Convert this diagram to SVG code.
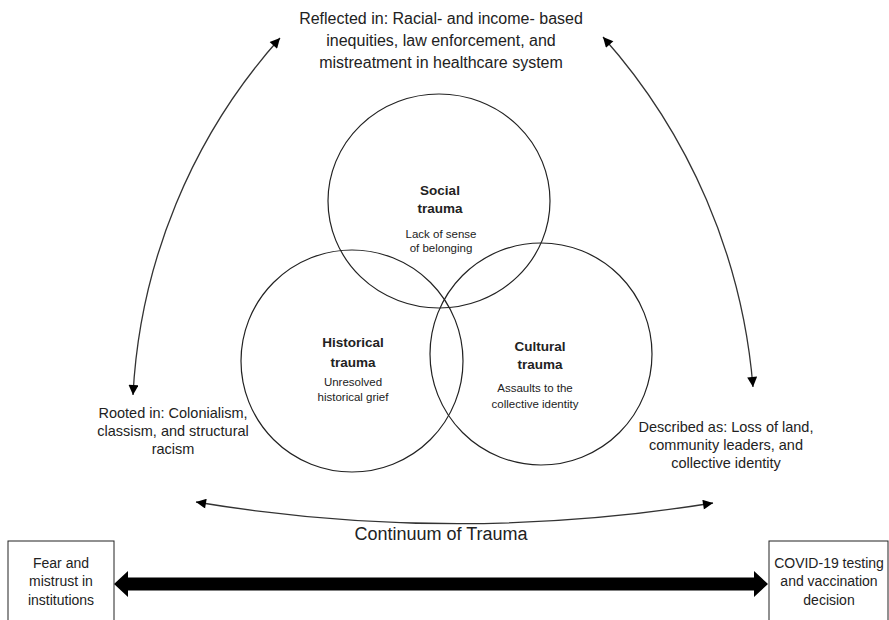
<svg xmlns="http://www.w3.org/2000/svg" width="889" height="620" viewBox="0 0 889 620">
<style>
.t{font-family:"Liberation Sans",Arial,sans-serif;fill:#222;text-anchor:middle}
.lab{font-size:16px}
.side{font-size:14.5px}
.box{font-size:14px}
.h{font-size:13.5px;font-weight:bold}
.s{font-size:11.5px}
.circ{fill:none;stroke:#222;stroke-width:1.2}
.conn{fill:none;stroke:#333;stroke-width:1.3}
.rect{fill:#fff;stroke:#222;stroke-width:1}
</style>
<defs>
<marker id="ah" viewBox="0 0 10 10" refX="10" refY="5" markerWidth="11" markerHeight="10" markerUnits="userSpaceOnUse" orient="auto-start-reverse">
<path d="M0,0 L10,5 L0,10 z" fill="#000"/>
</marker>
</defs>
<rect width="889" height="620" fill="#fff"/>
<g id="social-trauma">
<ellipse class="circ" cx="439" cy="201" rx="111" ry="107"/>
<text class="t h" x="440" y="195">Social</text>
<text class="t h" x="440" y="213">trauma</text>
<text class="t s" x="441" y="238">Lack of sense</text>
<text class="t s" x="441" y="252">of belonging</text>
</g>
<g id="historical-trauma">
<circle class="circ" cx="352" cy="361" r="111"/>
<text class="t h" x="353" y="347">Historical</text>
<text class="t h" x="353" y="367">trauma</text>
<text class="t s" x="353" y="386">Unresolved</text>
<text class="t s" x="353" y="401">historical grief</text>
</g>
<g id="cultural-trauma">
<circle class="circ" cx="541" cy="354" r="111"/>
<text class="t h" x="540" y="351">Cultural</text>
<text class="t h" x="540" y="369">trauma</text>
<text class="t s" x="535" y="392">Assaults to the</text>
<text class="t s" x="535" y="408">collective identity</text>
</g>
<g id="reflected">
<text class="t lab" x="441" y="24">Reflected in: Racial- and income- based</text>
<text class="t lab" x="441" y="46">inequities, law enforcement, and</text>
<text class="t lab" x="441" y="68">mistreatment in healthcare system</text>
</g>
<g id="rooted">
<text class="t side" x="173" y="418">Rooted in: Colonialism,</text>
<text class="t side" x="173" y="436">classism, and structural</text>
<text class="t side" x="173" y="454">racism</text>
</g>
<g id="described">
<text class="t side" x="726" y="432">Described as: Loss of land,</text>
<text class="t side" x="726" y="450">community leaders, and</text>
<text class="t side" x="726" y="468">collective identity</text>
</g>
<g id="continuum">
<text class="t" x="441" y="540" style="font-size:18px">Continuum of Trauma</text>
</g>
<g id="fear-box">
<rect class="rect" x="8" y="541" width="106" height="90"/>
<text class="t box" x="61" y="568">Fear and</text>
<text class="t box" x="61" y="586">mistrust in</text>
<text class="t box" x="61" y="605">institutions</text>
</g>
<g id="covid-box">
<rect class="rect" x="769" y="541" width="119" height="90"/>
<text class="t box" x="829" y="568">COVID-19 testing</text>
<text class="t box" x="829" y="586">and vaccination</text>
<text class="t box" x="829" y="605">decision</text>
</g>
<g id="connectors">
<path class="conn" d="M133,395 A581,581 0 0 1 280,38" marker-start="url(#ah)" marker-end="url(#ah)"/>
<path class="conn" d="M603,37 A600,600 0 0 1 753,387" marker-start="url(#ah)" marker-end="url(#ah)"/>
<path class="conn" d="M196,502 A1600,1600 0 0 0 713,503" marker-start="url(#ah)" marker-end="url(#ah)"/>
<polygon points="114,584 128,571 128,577.5 754,577.5 754,571 768,584 754,597 754,590.5 128,590.5 128,597" fill="#000"/>
</g>
</svg>
